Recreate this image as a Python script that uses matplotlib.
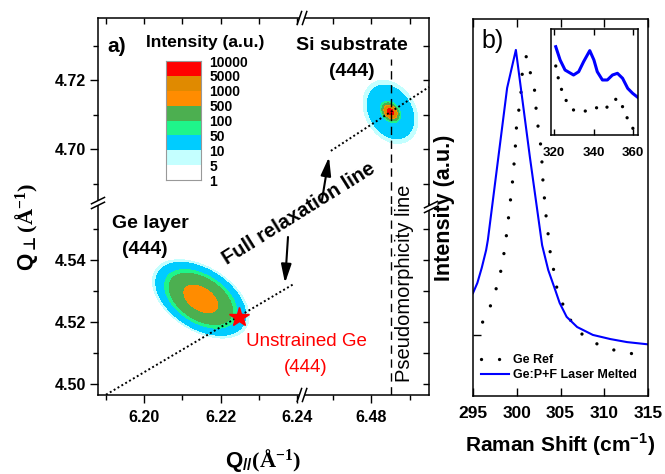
import numpy as np
import matplotlib.pyplot as plt
from matplotlib.patches import Polygon
from matplotlib.lines import Line2D
from matplotlib.ticker import FormatStrFormatter

plt.rcParams['font.family'] = ['Liberation Sans', 'DejaVu Sans']
plt.rcParams['font.weight'] = 'bold'
plt.rcParams['axes.labelweight'] = 'bold'
plt.rcParams['mathtext.fontset'] = 'custom'
plt.rcParams['mathtext.rm'] = 'Liberation Serif'
plt.rcParams['mathtext.bf'] = 'Liberation Sans:bold'
plt.rcParams['mathtext.sf'] = 'DejaVu Sans'
plt.rcParams['axes.linewidth'] = 1.1

W, H = 665, 474

# ---------- (a) reciprocal space map ----------
q_par_left = (6.1879, 6.2413)
q_par_right = (6.462, 6.495)
q_perp_low = (4.4965, 4.5581)
q_perp_high = (4.6841, 4.7380)

x_major_left = [6.20, 6.22, 6.24]
x_minor_left = [6.19, 6.21, 6.23]
x_major_right = [6.48]
x_minor_right = [6.47, 6.49]
y_major_low = [4.50, 4.52, 4.54]
y_minor_low = [4.51, 4.53, 4.55]
y_major_high = [4.70, 4.72]
y_minor_high = [4.69, 4.71, 4.73]

# intensity levels (a.u.) and their fill colours
levels = [5, 10, 50, 100, 500, 1000, 5000, 10000]
level_colors = ['#c4ffff', '#00ccff', '#1ff58a', '#4caf50', '#ff8c00', '#e08a00', '#ff0000']
legend_labels = ['1', '5', '10', '50', '100', '500', '1000', '5000', '10000']
legend_colors = ['#ffffff'] + level_colors

# peaks: q//, q_perp, sigma q//, sigma q_perp, correlation, height
ge_peaks = [(6.2148, 4.5275, 0.0039, 0.0039, -0.45, 950)]
si_peaks = [(6.4850, 4.7108, 0.0032, 0.0041, -0.27, 60),
            (6.4850, 4.7108, 0.0007, 0.0008, -0.30, 9000)]

relax_low_q = [6.190, 6.239]
relax_low_perp = [4.4966, 4.5322]
relax_high_q = [6.4695, 6.495]
relax_high_perp = [4.6995, 4.7180]
pseudo_q = 6.485
pseudo_top = 4.726
unstrained_ge = (6.2247, 4.5216)

# ---------- (b) Raman spectra ----------
ref_shift = [296.1, 296.9, 297.5, 298.0, 298.4, 298.9, 299.5, 299.8, 300.0, 300.3,
             300.5, 300.6, 301.1, 301.5, 302.0, 302.3, 302.8, 303.0, 303.3, 303.7,
             303.9, 304.3, 304.6, 305.2, 305.9, 306.9, 308.4, 310.0, 311.8, 313.6]
ref_int = [0.196, 0.233, 0.273, 0.313, 0.355, 0.440, 0.565, 0.645, 0.727, 0.767,
           0.809, 0.851, 0.902, 0.862, 0.820, 0.737, 0.655, 0.568, 0.488, 0.406,
           0.366, 0.326, 0.284, 0.247, 0.210, 0.175, 0.146, 0.130, 0.117, 0.111]
las_shift = [295.0, 295.5, 296.0, 296.5, 296.7, 298.9, 299.9, 301.5, 302.9, 303.6,
             304.4, 304.9, 305.7, 306.9, 308.7, 310.7, 312.6, 315.0]
las_int = [0.273, 0.300, 0.340, 0.387, 0.414, 0.817, 0.918, 0.634, 0.400, 0.334,
           0.281, 0.247, 0.210, 0.183, 0.162, 0.151, 0.143, 0.137]

# inset
ins_las_shift = [320.9, 323.1, 325.6, 329.9, 332.5, 335.0, 338.1, 340.2, 341.9, 344.5,
                 347.0, 349.6, 352.1, 354.7, 357.3, 359.8, 362.4]
ins_las_int = [0.833, 0.708, 0.613, 0.566, 0.597, 0.692, 0.796, 0.708, 0.597, 0.519,
               0.519, 0.566, 0.582, 0.535, 0.440, 0.393, 0.355]
ins_ref_shift = [320.9, 322.2, 323.9, 326.2, 329.9, 335.0, 340.7, 345.6, 349.6, 352.5,
                 355.1, 357.3, 360.4]
ins_ref_int = [0.651, 0.535, 0.425, 0.324, 0.236, 0.220, 0.261, 0.236, 0.324, 0.346,
               0.252, 0.148, 0.047]


def box(x0, y0, x1, y1):
    return [x0 / W, 1 - y1 / H, (x1 - x0) / W, (y1 - y0) / H]


def fpt(x, y):
    return (x / W, 1 - y / H)


def label(x, y, s, **kw):
    kw.setdefault('ha', 'center')
    kw.setdefault('va', 'center')
    return fig.text(x / W, 1 - y / H, s, **kw)


def peak_map(qx, qy, peaks):
    X, Y = np.meshgrid(qx, qy)
    Z = np.zeros_like(X)
    for x0, y0, sx, sy, rho, amp in peaks:
        u = (X - x0) / sx
        v = (Y - y0) / sy
        Z += amp * np.exp(-(u * u - 2 * rho * u * v + v * v) / (2 * (1 - rho * rho)))
    return Z


def break_mark(xc, yc, across_x):
    # two parallel slashes with a white gap, drawn on the figure in pixel units
    if across_x:
        d = np.array([2.2, -6.5])
        off = np.array([2.6, 0.0])
    else:
        d = np.array([6.5, -3.2])
        off = np.array([0.0, 2.4])
    c = np.array([xc, yc])
    quad = [c - off - d, c - off + d, c + off + d, c + off - d]
    fig.add_artist(Polygon([fpt(*p) for p in quad], closed=True, facecolor='white',
                           edgecolor='none', transform=fig.transFigure, zorder=5))
    for s in (-1, 1):
        a, b = c + s * off - d, c + s * off + d
        fig.add_artist(Line2D([a[0] / W, b[0] / W], [1 - a[1] / H, 1 - b[1] / H],
                              color='k', lw=1.1, transform=fig.transFigure, zorder=6))


fig = plt.figure(figsize=(6.65, 4.74), dpi=100)

ax_ll = fig.add_axes(box(98, 204, 302, 395))
ax_lr = fig.add_axes(box(302, 204, 429, 395))
ax_ul = fig.add_axes(box(98, 18, 302, 204))
ax_ur = fig.add_axes(box(302, 18, 429, 204))

for ax in (ax_ll, ax_lr, ax_ul, ax_ur):
    ax.set_facecolor('none')
ax_ll.set_xlim(*q_par_left); ax_ul.set_xlim(*q_par_left)
ax_lr.set_xlim(*q_par_right); ax_ur.set_xlim(*q_par_right)
ax_ll.set_ylim(*q_perp_low); ax_lr.set_ylim(*q_perp_low)
ax_ul.set_ylim(*q_perp_high); ax_ur.set_ylim(*q_perp_high)

ax_ll.spines[['top', 'right']].set_visible(False)
ax_lr.spines[['top', 'left']].set_visible(False)
ax_ul.spines[['bottom', 'right']].set_visible(False)
ax_ur.spines[['bottom', 'left']].set_visible(False)

for ax, xmaj, xmin in ((ax_ll, x_major_left, x_minor_left), (ax_ul, x_major_left, x_minor_left),
                       (ax_lr, x_major_right, x_minor_right), (ax_ur, x_major_right, x_minor_right)):
    ax.set_xticks(xmaj)
    ax.set_xticks(xmin, minor=True)
    ax.xaxis.set_major_formatter(FormatStrFormatter('%.2f'))
for ax, ymaj, ymin in ((ax_ll, y_major_low, y_minor_low), (ax_lr, y_major_low, y_minor_low),
                       (ax_ul, y_major_high, y_minor_high), (ax_ur, y_major_high, y_minor_high)):
    ax.set_yticks(ymaj)
    ax.set_yticks(ymin, minor=True)
    ax.yaxis.set_major_formatter(FormatStrFormatter('%.2f'))

for ax in (ax_ll, ax_lr):
    ax.xaxis.set_ticks_position('bottom')
    ax.tick_params(axis='x', which='major', direction='out', length=5.5, width=1.0,
                   labelsize=11.5, pad=5)
    ax.tick_params(axis='x', which='minor', direction='out', length=3.5, width=1.0)
for ax in (ax_ul, ax_ur):
    ax.xaxis.set_ticks_position('top')
    ax.tick_params(axis='x', which='both', direction='in', length=4, width=1.0,
                   labeltop=False, labelbottom=False)
for ax in (ax_ll, ax_ul):
    ax.yaxis.set_ticks_position('left')
    ax.tick_params(axis='y', which='major', direction='out', length=5.5, width=1.0,
                   labelsize=11.5, pad=3)
    ax.tick_params(axis='y', which='minor', direction='out', length=3.5, width=1.0)
for ax in (ax_lr, ax_ur):
    ax.yaxis.set_ticks_position('right')
    ax.tick_params(axis='y', which='both', direction='in', length=4, width=1.0,
                   labelright=False, labelleft=False)

# intensity maps
qx = np.linspace(*q_par_left, 400)
qy = np.linspace(*q_perp_low, 400)
ax_ll.contourf(qx, qy, peak_map(qx, qy, ge_peaks), levels=levels, colors=level_colors)
qx = np.linspace(*q_par_right, 400)
qy = np.linspace(*q_perp_high, 400)
ax_ur.contourf(qx, qy, peak_map(qx, qy, si_peaks), levels=levels, colors=level_colors)

# relaxation and pseudomorphic lines
ax_ll.plot(relax_low_q, relax_low_perp, color='k', lw=1.4, ls=(0, (1, 1.3)))
ax_ur.plot(relax_high_q, relax_high_perp, color='k', lw=1.4, ls=(0, (1, 1.3)), clip_on=False)
ax_lr.axvline(pseudo_q, color='k', lw=1.0, ls=(0, (6, 4)))
ax_ur.plot([pseudo_q, pseudo_q], [q_perp_high[0], pseudo_top], color='k', lw=1.0, ls=(0, (6, 4)))
ax_ll.plot(*unstrained_ge, marker='*', color='red', markersize=15, clip_on=False, zorder=5)

# break marks
break_mark(302, 18, True)
break_mark(302, 395, True)
break_mark(98, 203, False)
break_mark(431, 207, False)

# intensity legend bar
ax_leg = fig.add_axes(box(166, 61, 201, 180))
for i, c in enumerate(legend_colors):
    ax_leg.barh(i + 0.5, 1, height=1, color=c, edgecolor='none')
ax_leg.set_xlim(0, 1)
ax_leg.set_ylim(0, len(legend_colors))
ax_leg.set_xticks([])
ax_leg.set_yticks(range(len(legend_labels)))
ax_leg.set_yticklabels(legend_labels)
ax_leg.yaxis.set_ticks_position('right')
ax_leg.tick_params(axis='y', length=0, pad=6, labelsize=10)
for sp in ax_leg.spines.values():
    sp.set_color('#999999')
    sp.set_linewidth(0.8)

# text
label(117, 46, 'a)', fontsize=15)
label(205, 43, 'Intensity (a.u.)', fontsize=12.5)
label(352, 45, 'Si substrate', fontsize=14)
label(352, 72, '(444)', fontsize=14)
label(150, 223, 'Ge layer', fontsize=14)
label(145, 250, '(444)', fontsize=14)
label(299, 214, 'Full relaxation line', fontsize=14.5, rotation=32, rotation_mode='anchor')
label(306, 341, 'Unstrained Ge', fontsize=13.5, color='red', weight='normal')
label(306, 368, '(444)', fontsize=13.5, color='red', weight='normal')
label(404, 283, 'Pseudomorphicity line', fontsize=14.5, rotation=90, weight='normal')
label(263, 460, r'$\mathbf{Q}_{\mathbf{//}}\mathrm{(\AA^{-1})}$', fontsize=16)
label(27, 227, r'$\mathbf{Q}_{\mathsf{\bot}}\mathrm{(\AA^{-1})}$', fontsize=16, rotation=90)

arrow = dict(arrowstyle='-|>,head_length=0.8,head_width=0.22', color='k', lw=1.5,
             mutation_scale=14, shrinkA=0, shrinkB=0)
ax_ll.annotate('', xy=fpt(285, 283), xytext=fpt(288, 237), xycoords='figure fraction',
               textcoords='figure fraction', arrowprops=arrow)
ax_ur.annotate('', xy=fpt(329, 157), xytext=fpt(322, 200), xycoords='figure fraction',
               textcoords='figure fraction', arrowprops=arrow)

# ---------- panel b ----------
ax_b = fig.add_axes(box(473, 19, 648, 396))
ax_b.plot(ref_shift, ref_int, color='k', lw=2.4, ls=(0, (0.01, 5.4)),
          dash_capstyle='round', label='Ge Ref')
ax_b.plot(las_shift, las_int, color='#0000ff', lw=1.5, label='Ge:P+F Laser Melted')
ax_b.set_xlim(295, 315)
ax_b.set_ylim(0, 1)
ax_b.set_xticks([295, 300, 305, 310, 315])
ax_b.set_yticks([0.162])
ax_b.set_yticklabels([])
ax_b.tick_params(direction='in', top=True, length=5.5, width=1.0, labelsize=12.5, pad=7)
ax_b.set_xlabel(r'Raman Shift (cm$^{\mathbf{-1}}$)', fontsize=15, fontweight='bold', labelpad=8)
ax_b.set_ylabel('Intensity (a.u.)', fontsize=15.5, fontweight='bold', labelpad=6)
ax_b.text(0.05, 0.942, 'b)', transform=ax_b.transAxes, fontsize=18, weight='normal',
          va='center')
ax_b.legend(loc='lower left', bbox_to_anchor=(0.0, 0.02), frameon=False,
            prop={'size': 9, 'weight': 'bold'}, handlelength=2.3, handletextpad=0.3,
            labelspacing=0.2, borderaxespad=0.2)

ax_in = fig.add_axes(box(551, 29, 638, 135))
ax_in.plot(ins_ref_shift, ins_ref_int, color='k', lw=2.4, ls=(0, (0.01, 3.6)),
           dash_capstyle='round')
ax_in.plot(ins_las_shift, ins_las_int, color='#0000ff', lw=2.2)
ax_in.set_xlim(318.5, 362.5)
ax_in.set_ylim(0, 1)
ax_in.set_xticks([320, 340, 360])
ax_in.set_yticks([])
ax_in.tick_params(direction='in', top=True, length=4, width=1.0, labelsize=9.5, pad=9)

fig.savefig('out.png', dpi=100)
